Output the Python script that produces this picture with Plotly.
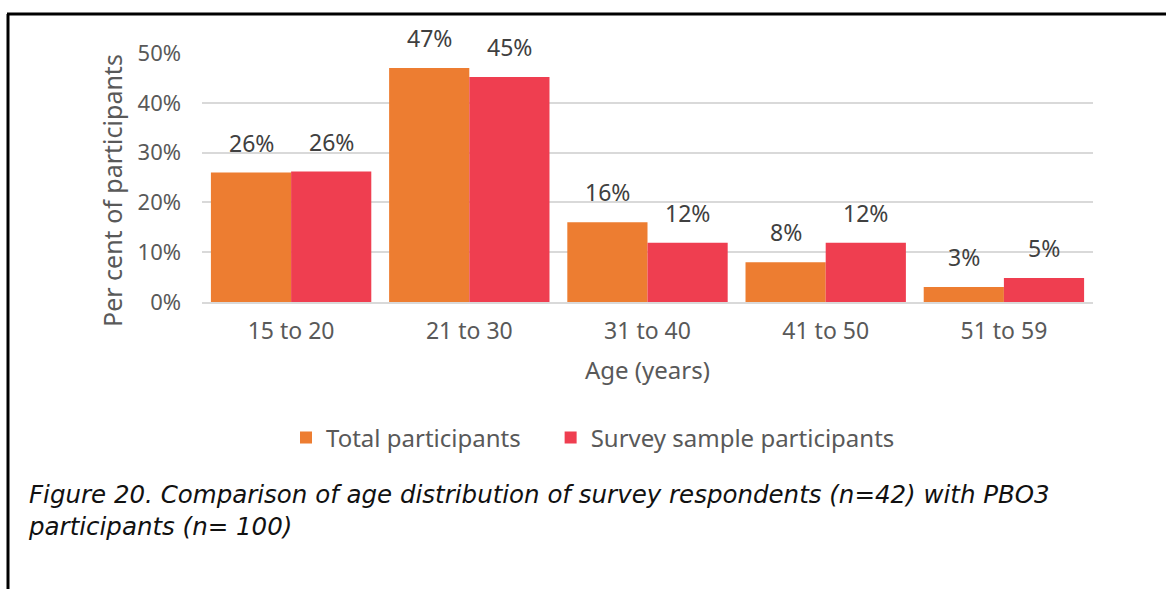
import plotly.graph_objects as go

categories = ["15 to 20", "21 to 30", "31 to 40", "41 to 50", "51 to 59"]
total_participants = [26, 47, 16, 8, 3]
survey_participants = [26.2, 45.2, 11.9, 11.9, 4.8]
y_ticks = [0, 10, 20, 30, 40, 50]
y_tick_labels = ["0%", "10%", "20%", "30%", "40%", "50%"]

ORANGE = "#ED7D31"
RED = "#EF3E50"
GREY = "#595959"
FONT = "Noto Sans"

W, H = 1166, 589
L, R, T, B = 202, 73, 53, 287
pw, ph = W - L - R, H - T - B

def px_x(p):
    return (p - L) / pw

def px_y(p):
    return (H - B - p) / ph

fig = go.Figure()
fig.add_bar(name="Total participants\u00a0\u00a0\u00a0\u00a0", x=categories, y=total_participants,
            marker=dict(color=ORANGE, line=dict(width=0)))
fig.add_bar(name="Survey sample participants", x=categories, y=survey_participants,
            marker=dict(color=RED, line=dict(width=0)))

annotations = []
for series, shift in ((total_participants, -40), (survey_participants, 40)):
    for c, v in zip(categories, series):
        annotations.append(dict(x=c, y=v, xref="x", yref="y", text=f"{v:.0f}%",
                                showarrow=False, xshift=shift, yshift=12, yanchor="bottom",
                                font=dict(family=FONT, size=23, color="#404040")))

annotations.append(dict(text="Age (years)", x=0.5, y=px_y(369), xref="paper", yref="paper",
                        showarrow=False, xanchor="center", yanchor="middle",
                        font=dict(family=FONT, size=24, color=GREY)))
annotations.append(dict(text="Per cent of participants", x=px_x(112), y=px_y(191), xref="paper", yref="paper",
                        showarrow=False, xanchor="center", yanchor="middle", textangle=-90,
                        font=dict(family=FONT, size=25, color=GREY)))
annotations.append(dict(text="<i>Figure 20. Comparison of age distribution of survey respondents (n=42) with PBO3<br>participants (n= 100)</i>",
                        x=px_x(26), y=px_y(510), xref="paper", yref="paper", align="left",
                        showarrow=False, xanchor="left", yanchor="middle",
                        font=dict(family="DejaVu Sans", size=24.5, color="#111111")))

shapes = [
    dict(type="line", xref="paper", yref="paper", x0=px_x(7), x1=px_x(1170), y0=px_y(14), y1=px_y(14),
         line=dict(color="black", width=3)),
    dict(type="line", xref="paper", yref="paper", x0=px_x(8), x1=px_x(8), y0=px_y(14), y1=px_y(595),
         line=dict(color="black", width=3)),
]

fig.update_layout(
    width=W, height=H,
    margin=dict(l=L, r=R, t=T, b=B, autoexpand=False),
    paper_bgcolor="white", plot_bgcolor="white",
    barmode="group", bargap=0.1, bargroupgap=0,
    showlegend=True,
    legend=dict(orientation="h", x=px_x(286), y=px_y(438), xanchor="left", yanchor="middle",
                font=dict(family=FONT, size=24, color=GREY), itemwidth=30,
                traceorder="normal"),
    annotations=annotations,
    shapes=shapes,
    font=dict(family=FONT, color=GREY),
)
fig.update_xaxes(showgrid=False, showline=True, linecolor="#d9d9d9", linewidth=1.5,
                 tickfont=dict(family=FONT, size=23, color=GREY), ticks="", ticklabelstandoff=8)
fig.update_yaxes(range=[0, 50], tickvals=y_ticks, ticktext=y_tick_labels, showgrid=True,
                 gridcolor="#d9d9d9", gridwidth=1.5, zeroline=False, showline=False,
                 tickfont=dict(family=FONT, size=22, color=GREY), ticks="", ticklabelstandoff=20)

fig.write_html("out.html", config={"displayModeBar": False},
               post_script="document.body.style.margin='0';document.body.style.overflow='hidden';")
